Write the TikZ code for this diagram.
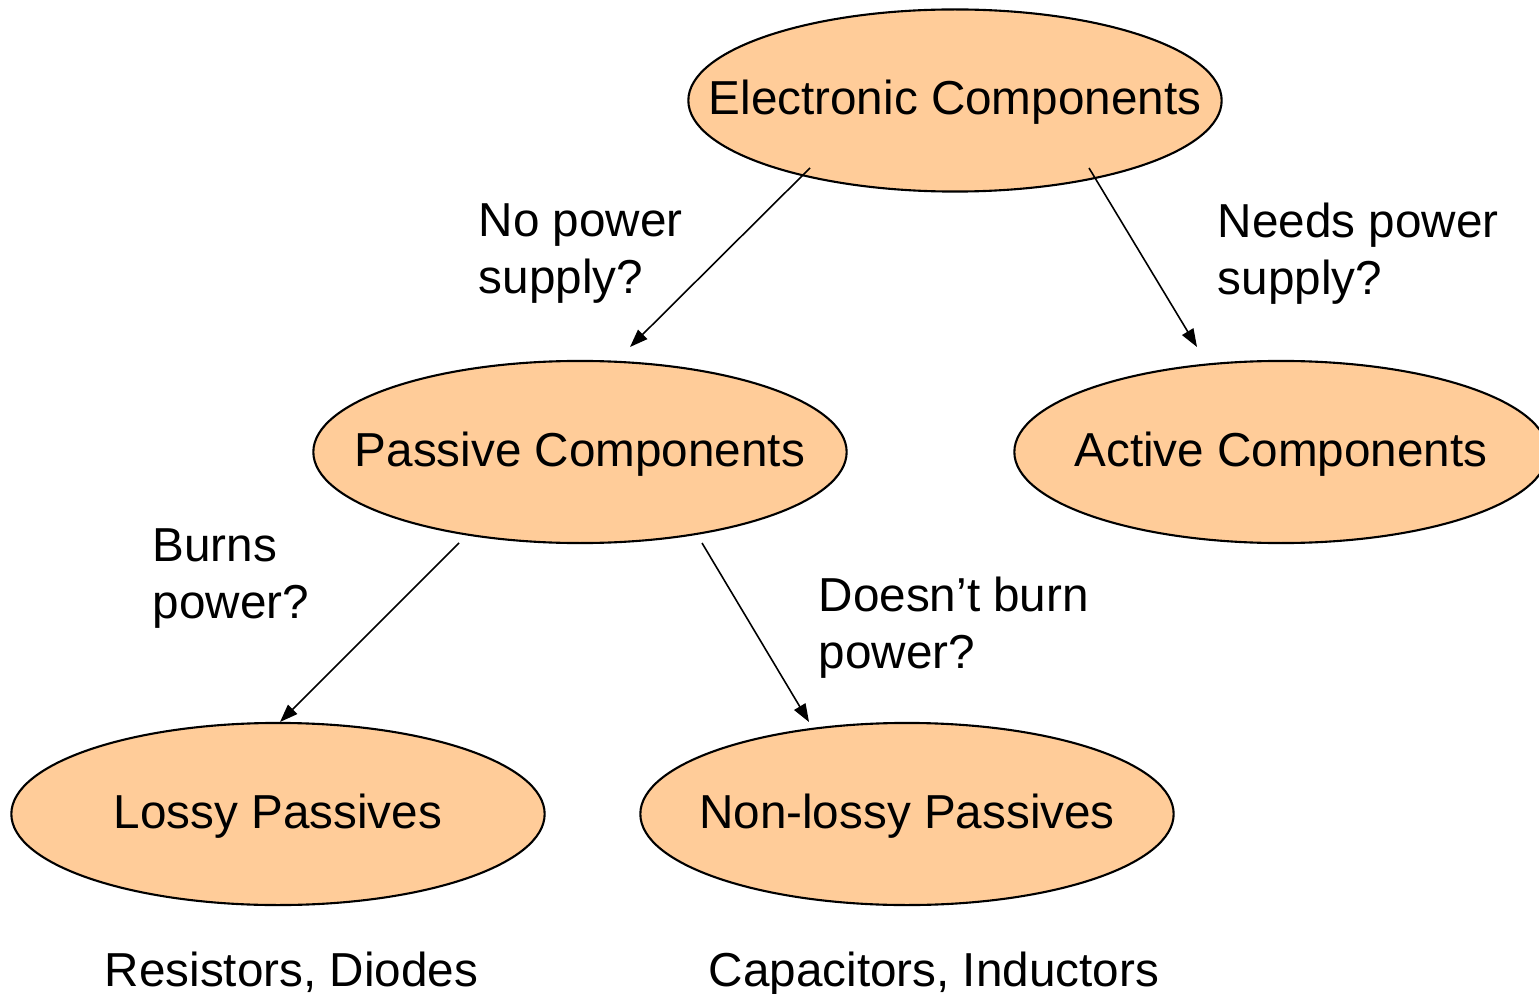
\documentclass[tikz,border=0pt]{standalone}
\usepackage{fontspec}
\setmainfont{Liberation Sans}
\usetikzlibrary{shapes.geometric,arrows.meta}
\newcommand\zw[1]{\makebox[0pt][c]{#1}}
\tikzset{
  comp/.style={ellipse, draw=black, line width=0.6pt, fill=peach, minimum width=5.33cm, minimum height=1.82cm, inner sep=0pt, text height=0.8em, text depth=0pt},
  lbl/.style={anchor=north west, align=left, inner sep=0pt},
  conn/.style={line width=0.45pt, -{Triangle[length=0.18cm,width=0.13cm]}}
}
\definecolor{peach}{HTML}{FFCC99}
\begin{document}
\begin{tikzpicture}[x=0.01cm,y=-0.01cm,font=\fontsize{13.55}{16.2}\selectfont]
\useasboundingbox (0,0) rectangle (1539,994);
\clip (0,0) rectangle (1539,994);
\node[comp] (ec) at (955,100.5) {\zw{Electronic Components}};
\node[comp] (pc) at (580,452) {\zw{Passive Components}};
\node[comp] (ac) at (1281,452) {\zw{Active Components}};
\node[comp] (lp) at (278,814) {\zw{Lossy Passives}};
\node[comp] (np) at (907,814) {\zw{Non-lossy Passives}};
\coordinate (a1s) at (810,168);
\coordinate (a1e) at (630,347);
\coordinate (a2s) at (1089,168);
\coordinate (a2e) at (1197,347);
\coordinate (a3s) at (459,543);
\coordinate (a3e) at (280,722);
\coordinate (a4s) at (702,543);
\coordinate (a4e) at (809,722);
\draw[conn] (a1s) -- (a1e);
\draw[conn] (a2s) -- (a2e);
\draw[conn] (a3s) -- (a3e);
\draw[conn] (a4s) -- (a4e);
\node[lbl] (l1) at (478,203) {No power\\supply?};
\node[lbl] (l2) at (1217,202) {Needs power\\supply?};
\node[lbl] (l3) at (152,528) {Burns\\power?};
\node[lbl] (l4) at (818,576) {Doesn’t burn\\power?};
\node[lbl] (l5) at (104,951) {Resistors, Diodes};
\node[lbl] (l6) at (708,951) {Capacitors, Inductors};
\end{tikzpicture}
\end{document}
